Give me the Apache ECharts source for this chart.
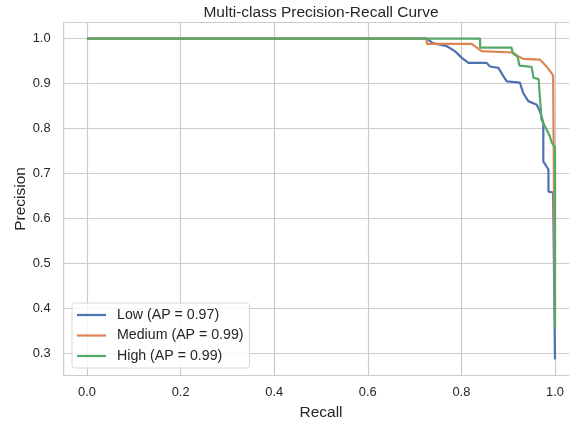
<!DOCTYPE html>
<html>
<head>
<meta charset="utf-8">
<title>Multi-class Precision-Recall Curve</title>
<script src="https://cdn.jsdelivr.net/npm/echarts@6/dist/echarts.min.js"></script>
<style>
  html, body { margin: 0; padding: 0; background: #ffffff; }
  #chart { width: 569px; height: 423px; }
</style>
</head>
<body>
<div id="chart"></div>
<script>
// Precision-recall points per class: [recall, precision]
const lowCurve = [
  [0.000, 1.000], [0.726, 1.000], [0.739, 0.990], [0.769, 0.983], [0.786, 0.972],
  [0.801, 0.957], [0.815, 0.946], [0.854, 0.946], [0.861, 0.938], [0.879, 0.935],
  [0.890, 0.916], [0.897, 0.905], [0.925, 0.902], [0.932, 0.879], [0.943, 0.861],
  [0.961, 0.853], [0.968, 0.838], [0.975, 0.813], [0.975, 0.727], [0.986, 0.709],
  [0.986, 0.660], [0.996, 0.658], [1.000, 0.658], [1.000, 0.287]
];
const mediumCurve = [
  [0.000, 1.000], [0.726, 1.000], [0.726, 0.988], [0.822, 0.988], [0.843, 0.972],
  [0.910, 0.969], [0.922, 0.960], [0.932, 0.955], [0.968, 0.953], [0.982, 0.938],
  [0.996, 0.918], [1.000, 0.918], [1.000, 0.360]
];
const highCurve = [
  [0.000, 1.000], [0.840, 1.000], [0.840, 0.980], [0.907, 0.980], [0.910, 0.967],
  [0.920, 0.960], [0.924, 0.940], [0.950, 0.937], [0.954, 0.913], [0.965, 0.910],
  [0.968, 0.866], [0.970, 0.840], [0.971, 0.820], [0.982, 0.798], [0.989, 0.783],
  [0.993, 0.769], [1.000, 0.758], [1.000, 0.355]
];

const seriesNames = ['Low (AP = 0.97)', 'Medium (AP = 0.99)', 'High (AP = 0.99)'];
const seriesColors = ['#4c72b0', '#dd8452', '#55a868'];

const xTicks = [0.0, 0.2, 0.4, 0.6, 0.8, 1.0];
const yTicks = [0.3, 0.4, 0.5, 0.6, 0.7, 0.8, 0.9, 1.0];

const FONT = "'Liberation Sans', Arial, sans-serif";
const TEXT = '#262626';
const GRID = '#cccccc';

const chart = echarts.init(document.getElementById('chart'), null, { renderer: 'canvas' });

function lineSeries(name, data, color) {
  return {
    name: name,
    type: 'line',
    data: data,
    symbol: 'none',
    smooth: false,
    clip: true,
    lineStyle: { color: color, width: 2.2 },
    itemStyle: { color: color },
    emphasis: { disabled: true }
  };
}

chart.setOption({
  animation: false,
  backgroundColor: '#ffffff',
  title: {
    text: 'Multi-class Precision-Recall Curve',
    left: 316,
    top: 0,
    textAlign: 'center',
    textStyle: { fontFamily: FONT, fontSize: 15.5, fontWeight: 'normal', color: TEXT }
  },
  grid: {
    left: 63.6,
    top: 22.5,
    width: 514.8,
    height: 353,
    show: true,
    borderColor: GRID,
    borderWidth: 1.2,
    backgroundColor: 'transparent',
    containLabel: false,
    outerBoundsMode: 'none'
  },
  legend: {
    orient: 'vertical',
    left: 72,
    top: 303,
    data: seriesNames,
    // plain short line as the key mark
    icon: 'path://M0,0H29V2.2H0Z',
    itemWidth: 29,
    itemHeight: 14,
    itemGap: 6.5,
    padding: [5, 6, 5, 5],
    backgroundColor: 'rgba(255,255,255,0.8)',
    borderColor: '#d8d8d8',
    borderWidth: 1,
    borderRadius: 3,
    selectedMode: false,
    textStyle: { fontFamily: FONT, fontSize: 14.2, color: TEXT, padding: [0, 0, 0, 6] }
  },
  xAxis: {
    type: 'value',
    min: -0.05,
    max: 1.05,
    name: 'Recall',
    nameLocation: 'middle',
    nameGap: 29,
    nameMoveOverlap: false,
    nameTextStyle: { fontFamily: FONT, fontSize: 15.5, color: TEXT },
    axisLine: { show: false },
    axisTick: { show: false, customValues: xTicks },
    axisLabel: {
      customValues: xTicks,
      margin: 10,
      fontFamily: FONT, fontSize: 12.9, color: TEXT,
      formatter: v => v.toFixed(1)
    },
    splitLine: { show: true, lineStyle: { color: GRID, width: 1.2 } }
  },
  yAxis: {
    type: 'value',
    min: 0.2513,
    max: 1.0357,
    name: 'Precision',
    nameLocation: 'middle',
    nameRotate: 90,
    nameGap: 35,
    nameMoveOverlap: false,
    nameTextStyle: { fontFamily: FONT, fontSize: 15.5, color: TEXT },
    axisLine: { show: false },
    axisTick: { show: false, customValues: yTicks },
    axisLabel: {
      customValues: yTicks,
      margin: 13,
      fontFamily: FONT, fontSize: 12.9, color: TEXT,
      formatter: v => v.toFixed(1)
    },
    splitLine: { show: true, lineStyle: { color: GRID, width: 1.2 } }
  },
  series: [
    lineSeries(seriesNames[0], lowCurve, seriesColors[0]),
    lineSeries(seriesNames[1], mediumCurve, seriesColors[1]),
    lineSeries(seriesNames[2], highCurve, seriesColors[2])
  ]
});
</script>
</body>
</html>
